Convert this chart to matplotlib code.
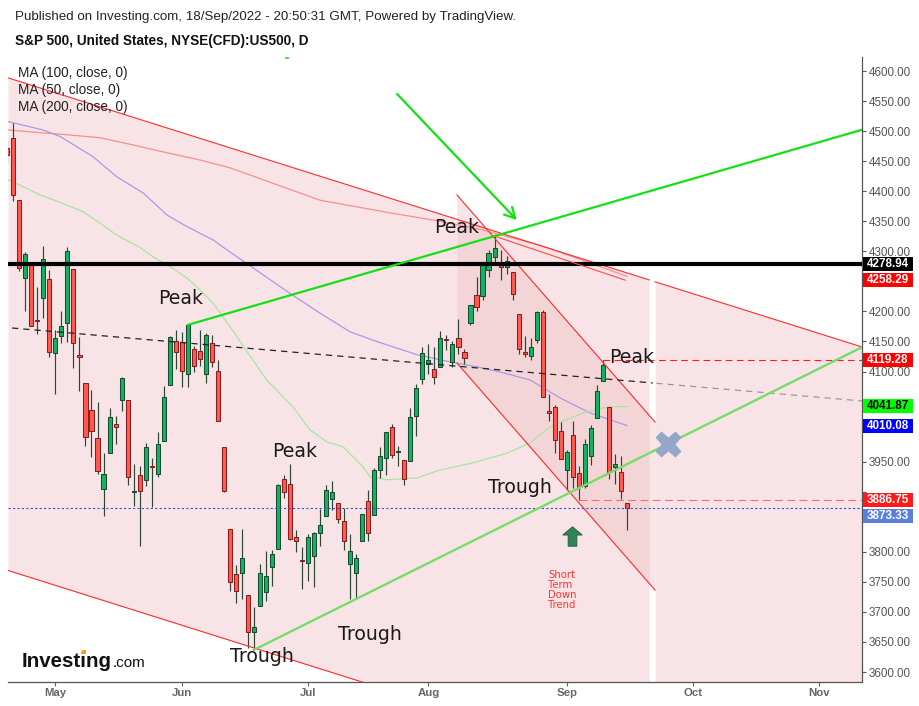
import matplotlib
matplotlib.use("Agg")
import matplotlib.pyplot as plt
from matplotlib.patches import Rectangle
from matplotlib.path import Path
import numpy as np

W, H = 920, 706

# ---------------- data ----------------
dates = ["Apr 20", "Apr 21", "Apr 22", "Apr 25", "Apr 26", "Apr 27", "Apr 28", "Apr 29",
         "May 2", "May 3", "May 4", "May 5", "May 6", "May 9", "May 10", "May 11", "May 12", "May 13",
         "May 16", "May 17", "May 18", "May 19", "May 20", "May 23", "May 24", "May 25", "May 26", "May 27", "May 31",
         "Jun 1", "Jun 2", "Jun 3", "Jun 6", "Jun 7", "Jun 8", "Jun 9", "Jun 10", "Jun 13", "Jun 14", "Jun 15",
         "Jun 16", "Jun 17", "Jun 21", "Jun 22", "Jun 23", "Jun 24", "Jun 27", "Jun 28", "Jun 29", "Jun 30",
         "Jul 1", "Jul 5", "Jul 6", "Jul 7", "Jul 8", "Jul 11", "Jul 12", "Jul 13", "Jul 14", "Jul 15",
         "Jul 18", "Jul 19", "Jul 20", "Jul 21", "Jul 22", "Jul 25", "Jul 26", "Jul 27", "Jul 28", "Jul 29",
         "Aug 1", "Aug 2", "Aug 3", "Aug 4", "Aug 5", "Aug 8", "Aug 9", "Aug 10", "Aug 11", "Aug 12",
         "Aug 15", "Aug 16", "Aug 17", "Aug 18", "Aug 19", "Aug 22", "Aug 23", "Aug 24", "Aug 25", "Aug 26",
         "Aug 29", "Aug 30", "Aug 31", "Sep 1", "Sep 2", "Sep 6", "Sep 7", "Sep 8", "Sep 9", "Sep 12",
         "Sep 13", "Sep 14", "Sep 15", "Sep 16"]
opens = [4472.26, 4489.17, 4385.83, 4255.34, 4278.14, 4186.52, 4222.58, 4253.75,
         4130.61, 4159.78, 4181.18, 4270.43, 4128.17, 4081.27, 4035.18, 3990.08, 3903.95, 3963.90,
         4013.02, 4052.00, 4051.98, 3899.00, 3927.76, 3919.42, 3942.94, 3929.59, 3984.60, 4077.43, 4151.09,
         4149.78, 4095.41, 4137.57, 4134.72, 4096.47, 4147.12, 4101.65, 3974.39, 3838.15, 3763.52, 3764.05,
         3728.18, 3665.90, 3709.33, 3733.89, 3774.71, 3805.13, 3920.76, 3913.00, 3825.09, 3785.99,
         3781.00, 3792.61, 3831.98, 3858.85, 3888.26, 3880.94, 3851.95, 3779.67, 3763.99, 3818.00,
         3883.79, 3860.73, 3935.32, 3955.47, 4007.00, 3965.72, 3953.22, 3951.43, 4026.13, 4087.33,
         4112.38, 4104.21, 4107.96, 4154.85, 4115.87, 4155.93, 4133.11, 4181.02, 4227.40, 4225.02,
         4269.37, 4290.46, 4280.40, 4273.13, 4266.31, 4195.08, 4133.09, 4126.55, 4153.26, 4198.74,
         4034.58, 4041.25, 4000.67, 3936.73, 3994.66, 3930.89, 3909.43, 3959.94, 4022.94, 4083.67,
         4041.23, 3940.73, 3932.41, 3880.95]
highs = [4488.29, 4512.94, 4385.83, 4299.02, 4278.14, 4240.71, 4308.45, 4269.68,
         4169.81, 4200.10, 4307.66, 4270.43, 4157.69, 4081.27, 4068.82, 4049.09, 3964.80, 4038.88,
         4026.17, 4090.72, 4051.98, 3945.96, 3943.42, 3981.88, 3955.68, 3999.33, 4075.14, 4158.49, 4168.34,
         4166.54, 4177.51, 4142.67, 4168.78, 4164.86, 4160.14, 4119.10, 3974.39, 3838.15, 3778.18, 3837.56,
         3728.18, 3707.71, 3779.65, 3801.79, 3802.58, 3913.65, 3927.72, 3945.86, 3836.50, 3807.85,
         3829.82, 3832.19, 3870.91, 3910.63, 3918.50, 3880.94, 3873.41, 3829.44, 3796.41, 3863.62,
         3902.44, 3939.81, 3974.13, 3999.29, 4012.44, 3975.30, 3953.22, 4039.56, 4078.95, 4140.15,
         4144.95, 4140.47, 4167.66, 4161.29, 4151.58, 4186.62, 4137.30, 4211.03, 4257.91, 4280.47,
         4301.79, 4325.28, 4302.18, 4292.53, 4266.31, 4195.08, 4159.77, 4156.56, 4200.54, 4203.04,
         4062.99, 4044.98, 4015.37, 3970.23, 4018.43, 3942.55, 3987.89, 4010.50, 4076.81, 4119.28,
         4041.23, 3961.94, 3959.14, 3880.95]
lows = [4448.76, 4384.47, 4267.62, 4200.82, 4175.04, 4162.90, 4188.63, 4124.28,
        4062.51, 4147.08, 4148.91, 4106.01, 4067.91, 3975.48, 3958.17, 3928.82, 3858.87, 3963.90,
        3980.00, 4033.93, 3911.91, 3876.58, 3810.32, 3909.04, 3875.13, 3925.03, 3984.60, 4077.43, 4104.88,
        4073.85, 4074.37, 4098.67, 4109.18, 4080.19, 4107.20, 4017.17, 3900.16, 3734.30, 3715.59, 3722.30,
        3639.77, 3636.87, 3709.33, 3717.69, 3743.52, 3805.13, 3889.66, 3820.14, 3799.02, 3738.67,
        3752.10, 3742.06, 3809.37, 3858.85, 3869.34, 3847.22, 3802.36, 3721.56, 3721.56, 3817.18,
        3818.63, 3860.73, 3922.03, 3927.64, 3955.77, 3943.46, 3910.74, 3951.43, 3992.97, 4079.22,
        4096.02, 4079.81, 4107.96, 4135.42, 4107.31, 4128.97, 4112.09, 4177.26, 4201.41, 4219.78,
        4256.90, 4277.77, 4253.08, 4261.98, 4218.70, 4129.86, 4124.03, 4119.97, 4147.59, 4057.66,
        4017.42, 3965.21, 3954.53, 3903.65, 3906.21, 3886.75, 3906.03, 3944.81, 4022.94, 4083.67,
        3921.96, 3912.25, 3888.28, 3837.08]
closes = [4459.45, 4393.66, 4271.78, 4296.12, 4175.20, 4183.96, 4287.50, 4131.93,
          4155.38, 4175.48, 4300.17, 4146.87, 4123.34, 3991.24, 4001.05, 3935.18, 3930.08, 4023.89,
          4008.01, 4088.85, 3923.68, 3900.79, 3901.36, 3973.75, 3941.48, 3978.73, 4057.84, 4158.24, 4132.15,
          4101.23, 4176.82, 4108.54, 4121.43, 4160.68, 4115.77, 4017.82, 3900.86, 3749.63, 3735.48, 3789.99,
          3666.77, 3674.84, 3764.79, 3759.89, 3795.73, 3911.74, 3900.11, 3821.55, 3818.83, 3785.38,
          3825.33, 3831.39, 3845.08, 3902.62, 3899.38, 3854.43, 3818.80, 3801.78, 3790.38, 3863.16,
          3830.85, 3936.69, 3959.90, 3998.95, 3961.63, 3966.84, 3921.05, 4023.61, 4072.43, 4130.29,
          4118.63, 4091.19, 4155.17, 4151.94, 4145.19, 4140.06, 4122.47, 4210.24, 4207.27, 4280.15,
          4297.14, 4305.20, 4274.04, 4283.74, 4228.48, 4137.99, 4128.73, 4140.77, 4199.12, 4057.66,
          4030.61, 3986.16, 3955.00, 3966.85, 3924.26, 3908.19, 3979.87, 4006.18, 4067.36, 4110.41,
          3932.69, 3946.01, 3901.35, 3873.33]
first_index = -8          # Apr 20 is 8 sessions before May 2 (index 0)

month_labels = ["May", "Jun", "Jul", "Aug", "Sep", "Oct", "Nov"]
month_index = [0, 21, 42, 62, 85, 106, 127]

price_ticks = list(range(3600, 4601, 50))
covered_ticks = [4250, 4050, 4000, 3900, 3850]   # hidden behind the price tags

# moving averages (bar index, value)
ma100_idx = [-7.9, -2.1, 0.8, 6.3, 10.2, 14.6, 18.6, 21.9, 26.2, 29.0, 39.0, 44.0, 49.0, 53.4,
             60.1, 65.6, 70.0, 74.4, 78.9, 83.9, 88.9, 95]
ma100_val = [4516, 4502, 4491, 4457, 4424, 4397, 4360, 4341, 4319, 4299, 4230, 4197, 4166, 4150,
             4128, 4116, 4108, 4098, 4086, 4056, 4031, 4010.08]
ma50_idx = [-7.9, -5.9, -2.6, 1.9, 4.6, 7.4, 10.2, 14.1, 16.2, 19.5, 21.8, 24.0, 26.2, 29.0, 35.1,
            39.5, 42.3, 45.1, 47.8, 51.1, 52.3, 55.1, 60.1, 63.9, 69.4, 75.0, 78.9, 82.2, 87.7, 91.6, 95]
ma50_val = [4419, 4410, 4394, 4377, 4366, 4347, 4327, 4306, 4291, 4272, 4256, 4236, 4214, 4175, 4086,
            4041, 4003, 3983, 3975, 3942, 3925, 3920, 3923, 3936, 3948, 3964, 3981, 4008, 4031, 4041, 4041.87]
ma200_idx = [-7.9, -2.1, 1.9, 7.4, 12.9, 18.5, 24.0, 29.0, 44.0, 50.1, 55.6, 62.8, 70.0, 73.0,
             80.6, 86.0, 95]
ma200_val = [4502, 4497, 4494, 4489, 4477, 4464, 4452, 4439, 4385, 4374, 4364, 4352, 4338, 4330,
             4310, 4291, 4258.29]

# drawings (bar index, price anchors)
big_upper = [(-7.88, 4588.6), (134.08, 4140.8)]
big_lower_start = (-7.88, 3769.0)
down_upper = [(66.75, 4393.7), (99.67, 4016.0)]
down_lower_start = (66.75, 4114.1)
strip_left, strip_right = 98.7, 99.7
peak_jun = (22, 4177.51)
peak_aug = (73, 4325.28)
trough_jun = (33, 3636.87)
trough_jul = (50, 3721.56)
dash_line = [(-7.21, 4172.4), (134.08, 4051.0)]
peak_trend_end = (94.7, 4252.0)
arrow_from, arrow_to = (56.8, 4561.7), (76.7, 4352.1)
level_black = 4278.94
level_peak_sep = (91, 4119.28)
level_trough_sep = (87, 3886.75)
last_close = 3873.33
cross_pos = (101.8, 3979.4)
up_arrow_pos = (85.9, 3826.3)

labels_text = ["Peak", "Peak", "Peak", "Peak", "Trough", "Trough", "Trough"]
labels_pos = [(17.05, 4222.3), (36.0, 3967.7), (62.9, 4340.4), (92.0, 4124.1),
              (29.0, 3625.0), (47.0, 3663.2), (71.9, 3906.2)]

axis_tags = [4278.94, 4258.29, 4119.28, 4041.87, 4010.08, 3886.75, 3873.33]
axis_tag_bg = ["#000000", "#ff0000", "#ff0000", "#00ff00", "#0000ff", "#ff1a1a", "#5b7fe0"]
axis_tag_fg = ["white", "white", "white", "black", "white", "white", "white"]

# ---------------- figure ----------------
plt.rcParams['font.family'] = ['Liberation Sans', 'DejaVu Sans']
fig = plt.figure(figsize=(W / 100, H / 100), dpi=100, facecolor="white")
ax = fig.add_axes([8 / W, 24 / H, 854 / W, 625 / H])
ax.set_xlim(-7.88, 134.08)
ax.set_ylim(3583.4, 4623.3)
ax.set_facecolor("white")

def line_at(p0, p1, x):
    return p0[1] + (p1[1] - p0[1]) * (x - p0[0]) / (p1[0] - p0[0])

FILL_C, FILL_A = "#f1c2c6", 0.44
slope_big = (big_upper[1][1] - big_upper[0][1]) / (big_upper[1][0] - big_upper[0][0])
def big_up(x):
    return line_at(big_upper[0], big_upper[1], x)
def big_lo(x):
    return big_lower_start[1] + slope_big * (x - big_lower_start[0])

for xa, xb in [(big_upper[0][0], strip_left), (strip_right, big_upper[1][0])]:
    xs = np.linspace(xa, xb, 50)
    ax.fill_between(xs, big_lo(xs), big_up(xs), color=FILL_C, alpha=FILL_A, lw=0, zorder=1)
    ax.plot(xs, big_up(xs), color="#ff2b2b", lw=0.8, zorder=6)
xs = np.linspace(big_upper[0][0], big_upper[1][0], 50)
ax.plot(xs, big_lo(xs), color="#ff2b2b", lw=0.8, zorder=6)

slope_dn = (down_upper[1][1] - down_upper[0][1]) / (down_upper[1][0] - down_upper[0][0])
xs = np.linspace(down_upper[0][0], down_upper[1][0], 30)
dn_up = line_at(down_upper[0], down_upper[1], xs)
dn_lo = down_lower_start[1] + slope_dn * (xs - down_lower_start[0])
ax.fill_between(xs, dn_lo, dn_up, color=FILL_C, alpha=FILL_A, lw=0, zorder=1)
ax.plot(xs, dn_up, color="#ff2b2b", lw=0.8, zorder=6)
ax.plot(xs, dn_lo, color="#ff2b2b", lw=0.8, zorder=6)

# moving averages
ax.plot(ma200_idx, ma200_val, color="#f49090", lw=0.9, zorder=3)
ax.plot(ma100_idx, ma100_val, color="#a89ae8", lw=0.9, zorder=3)
ax.plot(ma50_idx, ma50_val, color="#a6e6a0", lw=0.9, zorder=3)

# candles
idx = np.arange(len(opens)) + first_index
for x, o, h, l, c in zip(idx, opens, highs, lows, closes):
    up = c >= o
    ax.vlines(x, l, h, color="#2c4636", lw=0.85, zorder=4)
    lo = min(o, c)
    hgt = max(abs(c - o), 1.2)
    ax.add_patch(Rectangle((x - 0.34, lo), 0.68, hgt,
                           facecolor="#0fb565" if up else "#ff5a52",
                           edgecolor="#1b4a2e" if up else "#8a1d1d",
                           lw=0.75, zorder=5))

# trend drawings
x_end = 134.08
ax.plot([-7.88, x_end], [level_black, level_black], color="black", lw=3.0, zorder=6)
dx_mid = 99.3
ax.plot([dash_line[0][0], dx_mid], [dash_line[0][1], line_at(dash_line[0], dash_line[1], dx_mid)],
        color="#222222", lw=0.9, ls=(0, (5, 4)), zorder=6)
ax.plot([99.9, dash_line[1][0]], [line_at(dash_line[0], dash_line[1], 99.9), dash_line[1][1]],
        color="#999999", lw=0.9, ls=(0, (5, 4)), zorder=6)
ax.plot([peak_aug[0], peak_trend_end[0]], [peak_aug[1], peak_trend_end[1]], color="#ff4a4a", lw=0.8, zorder=6)

# upper lime line through Jun 2 and Aug 16 highs
ax.plot([peak_jun[0], x_end], [peak_jun[1], line_at(peak_jun, peak_aug, x_end)],
        color="#14e014", lw=1.6, zorder=7)
# lower light green line through Jun 17 and Jul 14 lows
ax.plot([trough_jun[0], x_end], [trough_jun[1], line_at(trough_jun, trough_jul, x_end)],
        color="#78dc6a", lw=1.7, zorder=7)
ax.annotate("", xy=arrow_to, xytext=arrow_from, zorder=7,
            arrowprops=dict(arrowstyle="->,head_length=0.75,head_width=0.4", color="#14e014",
                            lw=1.6, shrinkA=0, shrinkB=0))
ax.plot([38.35, 38.65], [4621.4, 4621.4], color="#14e014", lw=1.2, clip_on=False, zorder=7)

# horizontal levels
ax.plot([level_peak_sep[0], x_end], [level_peak_sep[1]] * 2, color="#ff1a1a", lw=0.8, ls=(0, (6, 4)), zorder=6)
ax.plot([level_trough_sep[0], x_end], [level_trough_sep[1]] * 2, color="#f07070", lw=0.8, ls=(0, (7, 4)), zorder=6)
ax.plot([-7.88, x_end], [last_close] * 2, color="#3355dd", lw=0.8, ls=(0, (2, 2)), zorder=6)

# cross marker and up arrow
ax.plot(*cross_pos, marker="X", markersize=19, color="#94a7c9", mec="none", zorder=8)
arrow_path = Path([(0, 1), (1, 0.15), (0.45, 0.15), (0.45, -1), (-0.45, -1), (-0.45, 0.15), (-1, 0.15), (0, 1)],
                  [Path.MOVETO] + [Path.LINETO] * 6 + [Path.CLOSEPOLY])
ax.plot(*up_arrow_pos, marker=arrow_path, markersize=14, color="#2f8556", mec="#225c3c", mew=0.6, zorder=8)
ax.text(81.9, 3770.5, "Short\nTerm\nDown\nTrend", color="#ff3333", fontsize=7.3, family="DejaVu Sans",
        ha="left", va="top", linespacing=1.0, zorder=8)

for t, (px, py) in zip(labels_text, labels_pos):
    ax.text(px, py, t, fontsize=13.6, family="DejaVu Sans", color="#1a1a1a", ha="left", va="center", zorder=9)

# axes styling
for s in ["top", "left"]:
    ax.spines[s].set_visible(False)
for s in ["right", "bottom"]:
    ax.spines[s].set_color("#555555")
    ax.spines[s].set_linewidth(0.9)
ax.yaxis.tick_right()
ax.set_yticks(price_ticks)
ax.set_yticklabels(["" if v in covered_ticks else f"{v:.2f}" for v in price_ticks])
ax.tick_params(axis="y", direction="out", length=3, width=0.8, colors="#555555", labelsize=8.4, pad=2)
ax.set_xticks(month_index)
ax.set_xticklabels(month_labels)
ax.tick_params(axis="x", direction="out", length=3, width=0.8, colors="#666666", labelsize=8.2, pad=1.5)
for lab in ax.get_xticklabels():
    lab.set_fontweight("bold")

# price tags on the axis (pushed apart when they collide)
TAG_H = 14
prev = None
for v, bg, fg in zip(axis_tags, axis_tag_bg, axis_tag_fg):
    yd = ax.transData.transform((0, v))[1]
    if prev is not None and prev - yd < 16.5:
        yd = prev - 16.5
    prev = yd
    fig.add_artist(Rectangle((863 / W, (yd - TAG_H / 2) / H), 50 / W, TAG_H / H, transform=fig.transFigure,
                             facecolor=bg, edgecolor="none", zorder=5))
    fig.text(888 / W, yd / H, f"{v:.2f}", color=fg, ha="center", va="center", fontsize=8.4,
             fontweight="bold", zorder=6)

# header texts
fig.text(15 / W, 1 - 17 / H, "Published on Investing.com, 18/Sep/2022 - 20:50:31 GMT, Powered by TradingView.",
         fontsize=9.6, color="#222222", va="center", ha="left")
fig.text(15 / W, 1 - 41 / H, "S&P 500, United States, NYSE(CFD):US500, D", fontsize=9.8,
         fontweight="bold", color="#111111", va="center", ha="left")
for i, t in enumerate(["MA (100, close, 0)", "MA (50, close, 0)", "MA (200, close, 0)"]):
    fig.text(18 / W, 1 - (73 + 17 * i) / H, t, fontsize=9.8, color="#222222", va="center", ha="left", zorder=10)

# Investing.com logo
logo = fig.text(22 / W, 1 - 667 / H, "Investing", fontsize=14.8, fontweight="bold", color="#111111",
                va="baseline", ha="left", zorder=10)
fig.canvas.draw()
bb = logo.get_window_extent()
fig.text((bb.x1 + 0.5) / W, 1 - 667 / H, ".com", fontsize=11, color="#111111", va="baseline", ha="left", zorder=10)
pref = fig.text(22 / W, 1 - 667 / H, "Invest", fontsize=14.8, fontweight="bold", alpha=0, va="baseline", ha="left")
fig.canvas.draw()
pb = pref.get_window_extent()
fig.add_artist(Rectangle(((pb.x1 + 1.0) / W, (H - 654) / H), 4 / W, 4 / H, transform=fig.transFigure,
                         facecolor="#f5a020", edgecolor="none", zorder=11))

fig.savefig("out.png", dpi=100, facecolor="white")
